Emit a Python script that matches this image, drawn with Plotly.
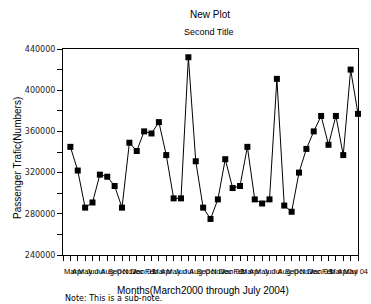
import plotly.graph_objects as go

months = ["Mar", "Apr", "May", "Jun", "Jul", "Aug", "Sep", "Oct", "Nov", "Dec"]
month_cycle = ["Jan", "Feb", "Mar", "Apr", "May", "Jun", "Jul", "Aug", "Sep", "Oct", "Nov", "Dec"]
x_labels = (months
            + [m + " 01" if m == "Jan" else m for m in month_cycle]
            + [m + " 02" if m == "Jan" else m for m in month_cycle]
            + ["Jan 03", "Feb", "Mar", "Apr", "May"]
            + ["Jul 04"])
x_pos = list(range(1, 41))
traffic = [345000, 322000, 286000, 291000, 318000, 316000, 307000, 286000, 349000, 341000,
           360000, 358000, 369000, 337000, 295000, 295000, 432000, 331000, 286000, 275000,
           294000, 333000, 305000, 307000, 345000, 294000, 290000, 294000, 411000, 288000,
           282000, 320000, 343000, 360000, 375000, 347000, 375000, 337000, 420000, 377000]

y_ticks = [240000, 280000, 320000, 360000, 400000, 440000]
y_tick_text = [str(v) for v in y_ticks]

# plot area in pixels
pl, pr, pt, pb = 63, 358, 49, 255
W, H = pr - pl, pb - pt


def px_x(v):
    return (v - pl) / W


def px_y(v):
    return (pb - v) / H


fig = go.Figure()
fig.add_trace(go.Scatter(
    x=x_pos, y=traffic, mode="lines+markers",
    line=dict(color="black", width=1),
    marker=dict(symbol="square", size=6, color="black"),
    cliponaxis=False, showlegend=False,
))

fig.update_layout(
    width=371, height=304,
    margin=dict(l=pl, r=371 - pr, t=pt, b=304 - pb, pad=0),
    paper_bgcolor="white", plot_bgcolor="white",
    font=dict(family="Liberation Sans, Arial, sans-serif", color="black"),
    xaxis=dict(
        range=[0, 40], tickmode="array", tickvals=x_pos, ticktext=x_labels,
        tickangle=0, ticks="outside", ticklen=5, tickcolor="black",
        tickfont=dict(size=7.5, family="Liberation Sans, Arial, sans-serif"),
        ticklabelstandoff=4,
        minor=dict(dtick=1, tick0=0, ticks="outside", ticklen=5, tickcolor="black"),
        showline=True, linecolor="black", linewidth=1, mirror=True,
        showgrid=False, zeroline=False, automargin=False,
    ),
    yaxis=dict(
        range=[240000, 440000], tickmode="array", tickvals=y_ticks, ticktext=y_tick_text,
        ticks="outside", ticklen=5, tickcolor="black",
        tickfont=dict(size=8, family="DejaVu Sans, sans-serif", color="#222"),
        minor=dict(dtick=20000, tick0=240000, ticks="outside", ticklen=5, tickcolor="black"),
        showline=True, linecolor="black", linewidth=1, mirror=True,
        showgrid=False, zeroline=False, automargin=False,
    ),
)

anns = [
    ("New Plot", 210, 14, 10, "center", 0, "Liberation Sans, Arial, sans-serif"),
    ("Second Title", 209, 32, 9, "center", 0, "Liberation Sans, Arial, sans-serif"),
    ("Passenger Trafic(Numbers)", 17, 158, 10, "center", -90, "Liberation Sans, Arial, sans-serif"),
    ("Months(March2000 through July 2004)", 203, 290, 10, "center", 0, "Liberation Sans, Arial, sans-serif"),
    ("Note: This is a sub-note.", 63, 298, 8, "left", 0, "DejaVu Sans, sans-serif"),
]
for text, x, y, size, xa, ang, fam in anns:
    fig.add_annotation(text=text, x=px_x(x), y=px_y(y), xref="paper", yref="paper",
                       xanchor=xa, yanchor="middle", textangle=ang, showarrow=False,
                       font=dict(size=size, family=fam))

fig.write_html("out.html", config={"displayModeBar": False},
               post_script="document.body.style.margin='0';document.body.style.padding='0';")
